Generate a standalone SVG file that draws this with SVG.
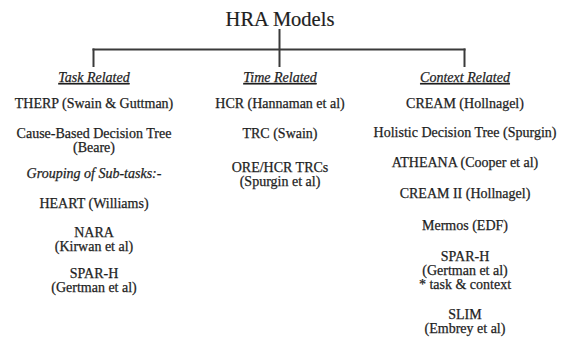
<svg xmlns="http://www.w3.org/2000/svg" width="563" height="343" viewBox="0 0 563 343">
<style>
text{font-family:"Liberation Serif","Times New Roman",serif;font-size:14px;fill:#1e1e1e;stroke:#1e1e1e;stroke-width:0.25;text-anchor:middle}
.title{font-size:20.5px;stroke-width:0.2}
.hdr{font-style:italic;text-decoration:underline}
.it{font-style:italic}
.conn line{stroke:#3a3a3a;stroke-width:2;fill:none}
</style>
<rect width="563" height="343" fill="#ffffff"/>
<g class="conn" id="connectors">
<line x1="279.5" y1="29" x2="279.5" y2="67"/>
<line x1="92.5" y1="49.5" x2="465.5" y2="49.5"/>
<line x1="93.5" y1="48.5" x2="93.5" y2="67"/>
<line x1="464.5" y1="48.5" x2="464.5" y2="67"/>
</g>
<g id="title"><text class="title" x="280" y="26">HRA Models</text></g>
<g id="task-related"><text class="hdr" x="94" y="82">Task Related</text></g>
<g id="time-related"><text class="hdr" x="280" y="82">Time Related</text></g>
<g id="context-related"><text class="hdr" x="465" y="82">Context Related</text></g>

<g id="therp"><text x="94" y="108">THERP (Swain &amp; Guttman)</text></g>
<g id="cbdt"><text x="94" y="138">Cause-Based Decision Tree</text><text x="94" y="152">(Beare)</text></g>
<g id="grouping"><text class="it" x="94" y="178">Grouping of Sub-tasks:-</text></g>
<g id="heart"><text x="94" y="208">HEART (Williams)</text></g>
<g id="nara"><text x="94" y="237">NARA</text><text x="94" y="251">(Kirwan et al)</text></g>
<g id="sparh-task"><text x="94" y="278">SPAR-H</text><text x="94" y="292">(Gertman et al)</text></g>

<g id="hcr"><text x="280" y="108">HCR (Hannaman et al)</text></g>
<g id="trc"><text x="280" y="138">TRC (Swain)</text></g>
<g id="ore"><text x="280" y="172">ORE/HCR TRCs</text><text x="280" y="186">(Spurgin et al)</text></g>

<g id="cream"><text x="465" y="108">CREAM (Hollnagel)</text></g>
<g id="hdt"><text x="465" y="137">Holistic Decision Tree (Spurgin)</text></g>
<g id="atheana"><text x="465" y="167">ATHEANA (Cooper et al)</text></g>
<g id="cream2"><text x="465" y="198">CREAM II (Hollnagel)</text></g>
<g id="mermos"><text x="465" y="230">Mermos (EDF)</text></g>
<g id="sparh-context"><text x="465" y="261">SPAR-H</text><text x="465" y="275">(Gertman et al)</text><text x="465" y="289">* task &amp; context</text></g>
<g id="slim"><text x="465" y="319">SLIM</text><text x="465" y="333">(Embrey et al)</text></g>
</svg>
